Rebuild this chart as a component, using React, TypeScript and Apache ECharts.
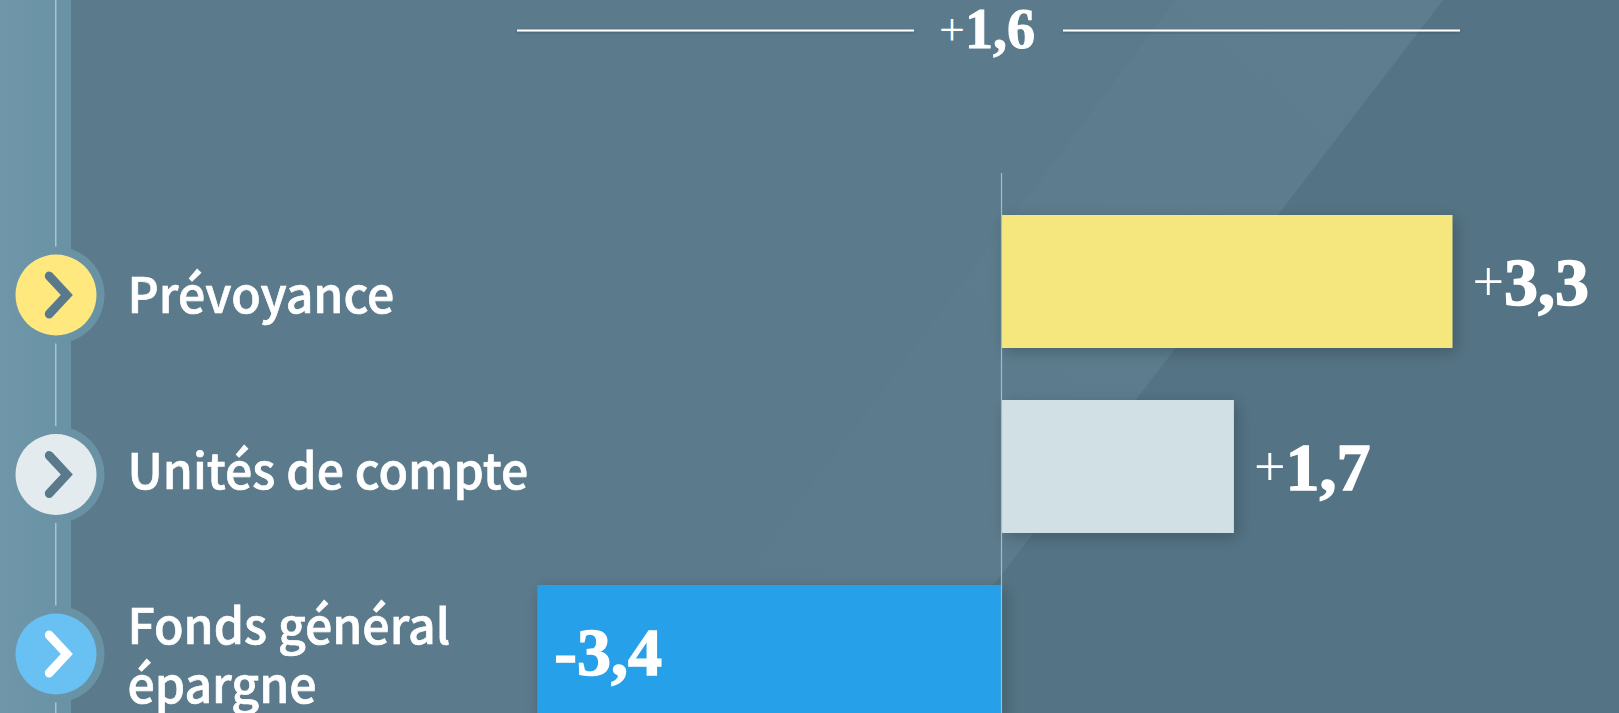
import React, { useEffect, useRef } from "react";
import * as echarts from "echarts";

const categories = ["Prévoyance", "Unités de compte", "Fonds général\népargne"];
const values = [3.3, 1.7, -3.4];
const totalValue = 1.6;

const barColors = ["#f5e77d", "#d0e0e5", "#25a0e8"];
const discColors = ["#ffe97f", "#e3ebee", "#69c0f3"];
const chevronColors = ["#5a7a8c", "#5a7a8c", "#ffffff"];
const labelShifts = [-3, -7, -2];

const SERIF = '"Liberation Serif", serif';
const SANS = '"Noto Sans CJK SC", "Noto Sans", sans-serif';
const CHEVRON =
  "path://M3.23,-3.14 L24.8,19 L3.23,41.14 A4.5,4.5 0 0 1 -3.23,34.86 L12.2,19 L-3.23,3.14 A4.5,4.5 0 0 1 3.23,-3.14 Z";
const number = (v: number) => Math.abs(v).toFixed(1).replace(".", ",");
const richValue = (v: number) => (v >= 0 ? `{p|+}{n|${number(v)}}` : `{n|-${number(v)}}`);
const rich = {
  p: { fontFamily: SERIF, fontSize: 56, color: "#fff", fontWeight: 400 },
  n: { fontFamily: SERIF, fontSize: 68, color: "#fff", fontWeight: 700, textBorderColor: "#fff", textBorderWidth: 1.5 },
};
const hairline = { fill: "#ffffff", shadowBlur: 4, shadowColor: "rgba(0,0,0,.3)", shadowOffsetY: 2 };

export default function App() {
  const ref = useRef<HTMLDivElement>(null);
  useEffect(() => {
    document.body.style.margin = "0";
    document.body.style.overflow = "hidden";
    const chart = echarts.init(ref.current!, null, { renderer: "svg" });
    chart.setOption({
      animation: false,
      backgroundColor: "#5b7a8b",
      grid: [
        { left: 455.3, width: 1092.8, top: 189, height: 555, outerBoundsMode: "none" },
        { left: 0, width: 112, top: 205.25, height: 538.5, outerBoundsMode: "none" },
      ],
      xAxis: [
        { type: "value", gridIndex: 0, min: -4, max: 4, show: false },
        { type: "category", gridIndex: 1, data: ["marker"], show: false },
      ],
      yAxis: [
        { type: "category", gridIndex: 0, inverse: true, data: categories, show: false },
        { type: "category", gridIndex: 1, inverse: true, data: categories, show: false },
      ],
      graphic: [
        {
          type: "polygon", z: -5, silent: true,
          shape: { points: [[1443, 0], [1619, 0], [1619, 713], [895, 713]] },
          style: { fill: "#547384" },
        },
        {
          type: "polygon", z: -5, silent: true,
          shape: { points: [[1176, 0], [1443, 0], [895, 713], [640, 713]] },
          style: {
            fill: new echarts.graphic.LinearGradient(0, 1, 1, 0, [
              { offset: 0, color: "#5b7a8b" },
              { offset: 1, color: "#5e7e8f" },
            ]),
          },
        },
        {
          type: "rect", z: -4, silent: true,
          shape: { x: 0, y: 0, width: 71, height: 713 },
          style: {
            fill: new echarts.graphic.LinearGradient(0, 0, 1, 0, [
              { offset: 0, color: "#6f96a9" },
              { offset: 1, color: "#6a92a5" },
            ]),
          },
        },
        {
          type: "rect", z: -3, silent: true,
          shape: { x: 55, y: 0, width: 1.5, height: 713 },
          style: { fill: "#a9c3cf" },
        },
        { type: "rect", z: 1, silent: true, shape: { x: 517, y: 29.5, width: 397, height: 2 }, style: hairline },
        { type: "rect", z: 1, silent: true, shape: { x: 1063, y: 29.5, width: 397, height: 2 }, style: hairline },
        {
          type: "text", z: 1, silent: true, x: 987, y: 29,
          style: {
            text: richValue(totalValue),
            align: "center", verticalAlign: "middle",
            rich: {
              p: { fontFamily: SERIF, fontSize: 46, fill: "#fff", fontWeight: 400 },
              n: { fontFamily: SERIF, fontSize: 56, fill: "#fff", fontWeight: 700, stroke: "#fff", lineWidth: 1 },
            },
            fill: "#fff",
          },
        },
      ],
      series: [
        {
          type: "bar", xAxisIndex: 0, yAxisIndex: 0, barWidth: 133, z: 2,
          data: values.map((v, i) => ({
            value: v,
            itemStyle: { color: barColors[i] },
            label: v >= 0
              ? { position: "right", distance: 20 }
              : { position: "insideLeft", distance: 17 },
          })),
          itemStyle: { shadowBlur: 16, shadowColor: "rgba(0,0,0,.22)", shadowOffsetX: 3, shadowOffsetY: 4 },
          label: {
            show: true,
            formatter: (p: any) => richValue(p.value),
            rich,
          },
          markLine: {
            silent: true, symbol: "none", animation: false, label: { show: false },
            lineStyle: { type: "solid", color: "#a3bcc8", width: 1.2 },
            data: [[{ xAxis: 0, y: 173 }, { xAxis: 0, y: 713 }]],
          },
        },
        {
          type: "scatter", xAxisIndex: 1, yAxisIndex: 1, symbol: "circle", symbolSize: 97, z: 3, silent: true,
          itemStyle: {
            opacity: 1,
            color: new echarts.graphic.LinearGradient(0, 0, 1, 0, [
              { offset: 0, color: "#6e95a8" },
              { offset: 0.65, color: "#6a92a5" },
              { offset: 1, color: "#6a92a5" },
            ]),
          },
          data: categories.map((c) => ["marker", c]),
        },
        {
          type: "scatter", xAxisIndex: 1, yAxisIndex: 1, symbol: "circle", symbolSize: 81, z: 4, silent: true,
          data: categories.map((c, i) => ({
            value: ["marker", c],
            itemStyle: { color: discColors[i], opacity: 1 },
            label: { offset: [0, labelShifts[i]] },
          })),
          label: {
            show: true, position: "right", distance: 31,
            formatter: (p: any) => p.value[1],
            fontFamily: SANS, fontSize: 48.2, fontWeight: 500, color: "#fff", lineHeight: 59, align: "left",
            textBorderColor: "#fff", textBorderWidth: 0.7,
          },
        },
        {
          type: "scatter", xAxisIndex: 1, yAxisIndex: 1, z: 5, silent: true,
          symbol: CHEVRON,
          symbolSize: [28, 47],
          symbolOffset: [2.85, 0],
          data: categories.map((c, i) => ({
            value: ["marker", c],
            itemStyle: { color: chevronColors[i], opacity: 1 },
          })),
        },
      ],
    });
    return () => chart.dispose();
  }, []);
  return <div ref={ref} style={{ width: 1619, height: 713 }} />;
}
